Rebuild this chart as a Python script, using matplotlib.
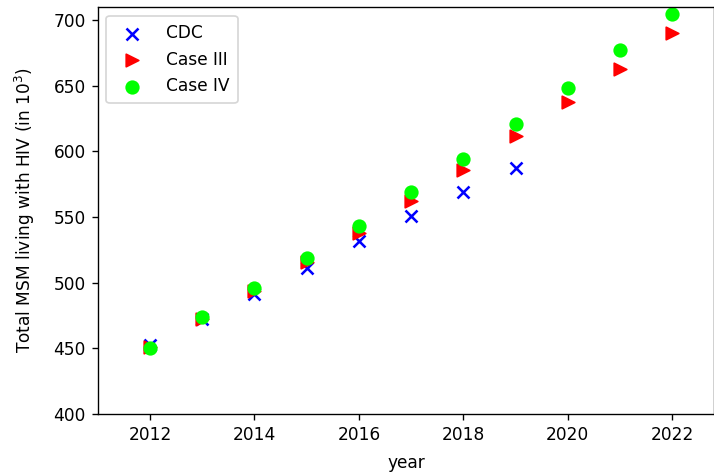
import matplotlib
matplotlib.use('Agg')
import matplotlib.pyplot as plt
import numpy as np


years_cdc = [2012, 2013, 2014, 2015, 2016, 2017, 2018, 2019]
cdc = [452.5, 472, 491.5, 511.5, 531.5, 550.5, 569, 587.5]

years_model = [2012, 2013, 2014, 2015, 2016, 2017, 2018, 2019, 2020, 2021, 2022]
case_3 = [451, 472.5, 493.5, 516, 538, 562.5, 586, 612, 637.5, 663, 690]
case_4 = [450.5, 474, 496, 519, 543, 569, 594.5, 621, 648.5, 677, 705]


# rendered at a higher dpi so text and marks scale like the reference
dpi = 122
fig = plt.figure(figsize=(714 / dpi, 474 / dpi), dpi=dpi)
ax = fig.add_axes([0.137, 0.127, 0.863, 0.858])

ax.scatter(years_cdc, cdc, marker='x', color='b', s=50, label='CDC')
ax.scatter(years_model, case_3, marker='>', color='r', s=55, label='Case III')
ax.scatter(years_model, case_4, marker='o', color='lime', s=55, label='Case IV')

ax.set_xlim(2011.0, 2022.8)
ax.set_ylim(400, 710)
ax.set_xticks(np.arange(2012, 2023, 2))
ax.set_xlabel('year', labelpad=6)
ax.set_ylabel('Total MSM living with HIV (in $10^3$)', labelpad=10)
ax.legend(loc='upper left', scatterpoints=1, borderpad=0.5, handletextpad=1.0)

fig.savefig('out.png', dpi=dpi)
